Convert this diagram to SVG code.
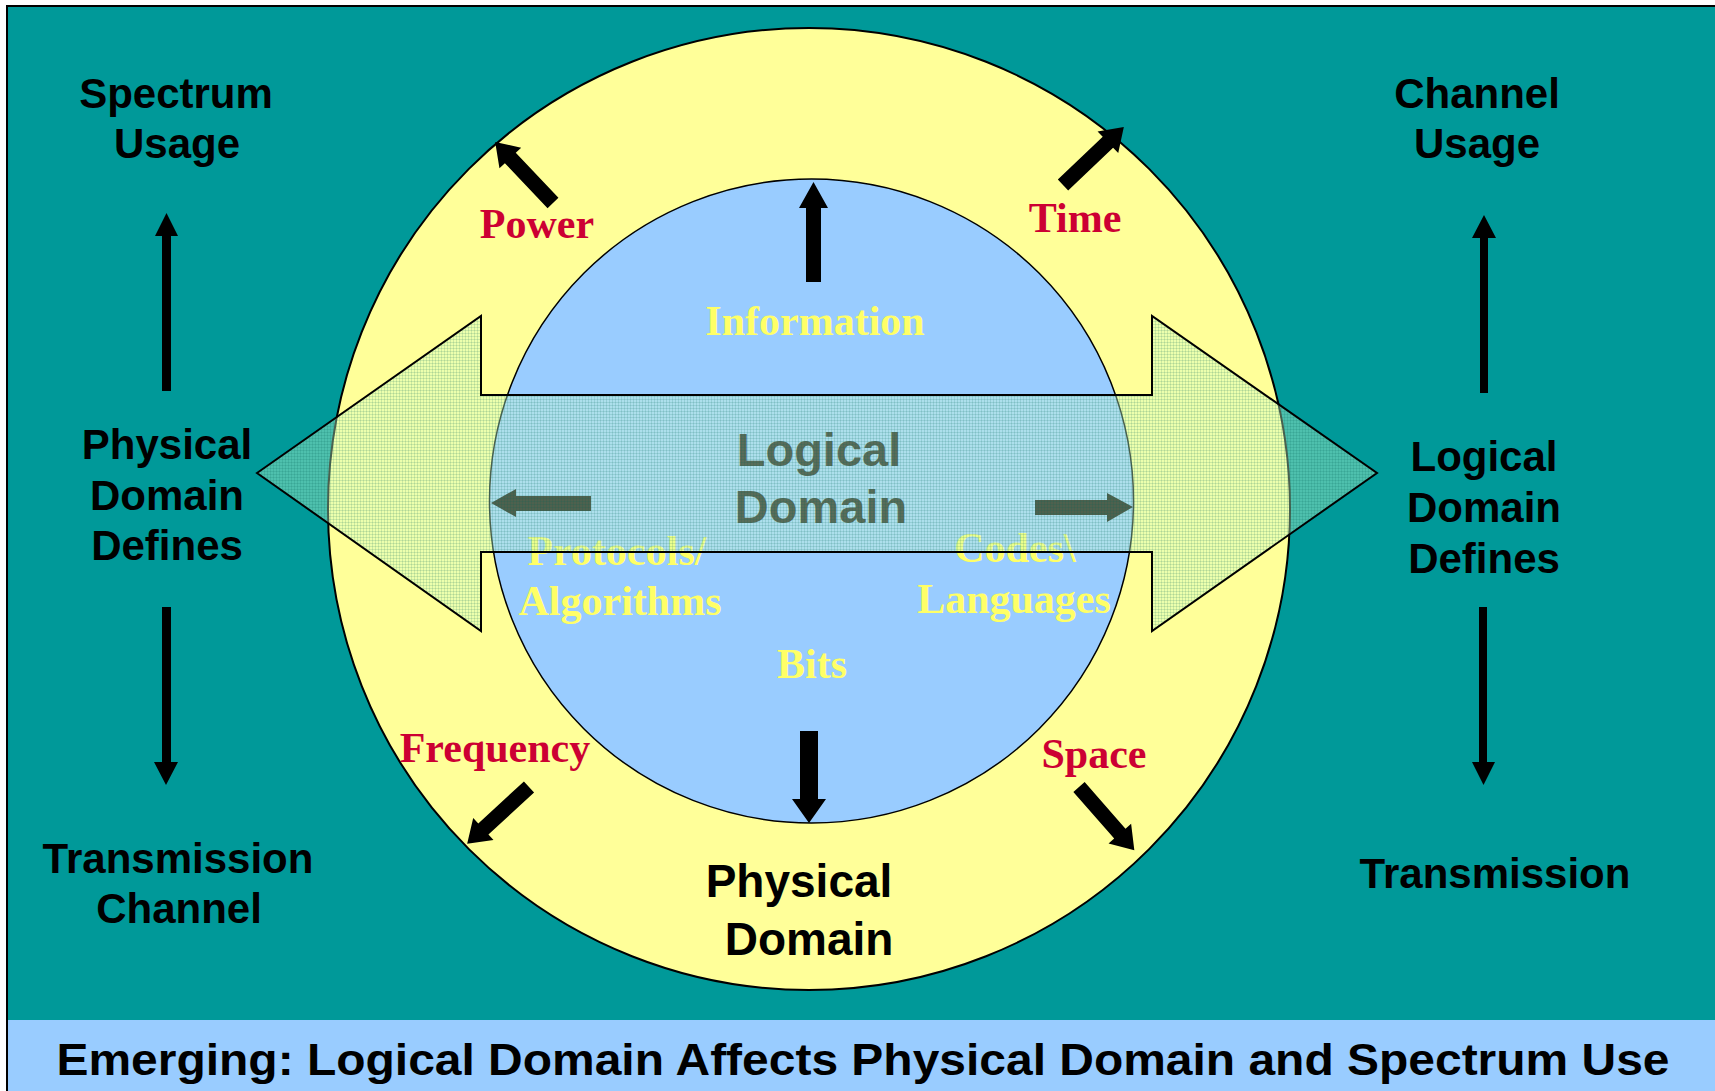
<svg xmlns="http://www.w3.org/2000/svg" width="1715" height="1091" viewBox="0 0 1715 1091">
<style>
.lbl{font-family:"Liberation Sans",Arial,sans-serif;font-weight:bold;font-size:42px;fill:#000;text-anchor:middle}
.red{font-family:"Liberation Serif","Times New Roman",serif;font-weight:bold;font-size:42px;fill:#cc0033;text-anchor:middle}
.yel{font-family:"Liberation Serif","Times New Roman",serif;font-weight:bold;font-size:42px;fill:#ffff66;text-anchor:middle}
.blk{fill:#000}
</style>
<defs>
<pattern id="dots" width="3" height="3" patternUnits="userSpaceOnUse">
<rect width="3" height="3" fill="#ccffcc" fill-opacity="0.38"/>
<rect width="3" height="1" fill="#006655" fill-opacity="0.14"/>
<rect width="1" height="3" fill="#006655" fill-opacity="0.14"/>
</pattern>
<path id="diag" d="M0,-7.5 L62,-7.5 L62,-15 L84,0 L62,15 L62,7.5 L0,7.5 Z"/>
</defs>
<rect x="0" y="0" width="1715" height="1091" fill="#ffffff"/>
<rect x="7" y="6" width="1712" height="1090" fill="#009999" stroke="#000" stroke-width="2"/>
<rect id="banner-bg" x="8" y="1020" width="1707" height="71" fill="#99ccff"/>

<g id="physical-domain">
<circle cx="809" cy="509" r="481" fill="#ffff99" stroke="#000" stroke-width="2"/>
</g>
<g id="logical-domain">
<circle cx="811.5" cy="501" r="322" fill="#99ccff" stroke="#000" stroke-width="1.5"/>
<text class="lbl" x="819" y="466" style="font-size:47px;fill:#111111">Logical</text>
<text class="lbl" x="821" y="523" style="font-size:47px;fill:#111111">Domain</text>
</g>
<g id="protocols">
<text class="yel" x="617" y="565">Protocols/</text>
<text class="yel" x="620" y="615">Algorithms</text>
</g>
<g id="codes">
<text class="yel" x="1015" y="562">Codes\</text>
<text class="yel" x="1014" y="613">Languages</text>
</g>
<g id="inner-arrows">
<path class="blk" d="M591,496 L516,496 L516,489 L491,503 L516,517 L516,511 L591,511 Z"/>
<path class="blk" d="M1035,500 L1107,500 L1107,493 L1133,507 L1107,522 L1107,515 L1035,515 Z"/>
</g>
<g id="big-double-arrow">
<polygon points="257,473 481,316 481,395 1152,395 1152,316 1377,473 1152,631 1152,552 481,552 481,631" fill="url(#dots)" stroke="#000" stroke-width="2" stroke-linejoin="miter"/>
</g>

<g id="information"><text class="yel" x="815" y="335">Information</text></g>
<g id="bits"><text class="yel" x="812" y="678">Bits</text></g>
<g id="power"><text class="red" x="537" y="238">Power</text></g>
<g id="time"><text class="red" x="1075" y="232">Time</text></g>
<g id="frequency"><text class="red" x="495" y="762">Frequency</text></g>
<g id="space"><text class="red" x="1094" y="768">Space</text></g>
<g id="physical-domain-label">
<text class="lbl" x="799" y="897" style="font-size:46px">Physical</text>
<text class="lbl" x="809" y="955" style="font-size:46px">Domain</text>
</g>
<g id="spectrum-usage">
<text class="lbl" x="176" y="108">Spectrum</text>
<text class="lbl" x="177" y="158">Usage</text>
</g>
<g id="channel-usage">
<text class="lbl" x="1477" y="108">Channel</text>
<text class="lbl" x="1477" y="158">Usage</text>
</g>
<g id="physical-domain-defines">
<text class="lbl" x="167" y="459">Physical</text>
<text class="lbl" x="167" y="510">Domain</text>
<text class="lbl" x="167" y="560">Defines</text>
</g>
<g id="logical-domain-defines">
<text class="lbl" x="1484" y="471">Logical</text>
<text class="lbl" x="1484" y="522">Domain</text>
<text class="lbl" x="1484" y="573">Defines</text>
</g>
<g id="transmission-channel">
<text class="lbl" x="178" y="873">Transmission</text>
<text class="lbl" x="179" y="923">Channel</text>
</g>
<g id="transmission">
<text class="lbl" x="1495" y="888">Transmission</text>
</g>
<g id="banner">
<text class="lbl" x="863" y="1075" style="font-size:44px" textLength="1613" lengthAdjust="spacingAndGlyphs">Emerging: Logical Domain Affects Physical Domain and Spectrum Use</text>
</g>

<g id="connectors">
<path class="blk" d="M806,282 L806,208 L799,208 L813.5,182 L828,208 L821,208 L821,282 Z"/>
<path class="blk" d="M800,731 L800,799 L792,799 L809,823 L826,799 L818,799 L818,731 Z"/>
<use href="#diag" class="blk" transform="translate(553,203) rotate(-133.5)"/>
<use href="#diag" class="blk" transform="translate(1063,185) rotate(-43.6)"/>
<use href="#diag" class="blk" transform="translate(529,787) rotate(137.4)"/>
<use href="#diag" class="blk" transform="translate(1079,787) rotate(48.8)"/>
<path class="blk" d="M162,391 L162,236 L155,236 L166.5,213 L178,236 L171,236 L171,391 Z"/>
<path class="blk" d="M162,607 L162,762 L154,762 L166,785 L178,762 L171,762 L171,607 Z"/>
<path class="blk" d="M1480,393 L1480,238 L1472,238 L1484,215 L1496,238 L1488,238 L1488,393 Z"/>
<path class="blk" d="M1479,607 L1479,762 L1472,762 L1483.5,785 L1495,762 L1487,762 L1487,607 Z"/>
</g>
</svg>
